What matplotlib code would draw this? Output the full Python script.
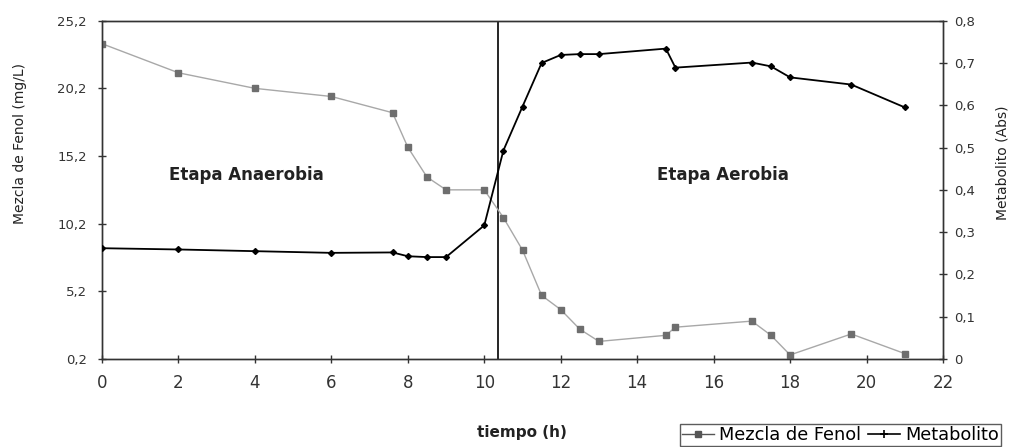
import matplotlib
matplotlib.use("Agg")
import matplotlib.pyplot as plt
from matplotlib.lines import Line2D

# ---- data ----
tiempo = [0, 2, 4, 6, 7.6, 8, 8.5, 9, 10, 10.5, 11, 11.5, 12, 12.5, 13,
          14.75, 15, 17, 17.5, 18, 19.6, 21]
fenol = [23.5, 21.35, 20.2, 19.6, 18.4, 15.85, 13.65, 12.7, 12.7, 10.65, 8.25,
         4.9, 3.85, 2.4, 1.5, 1.95, 2.55, 3.0, 1.95, 0.5, 2.05, 0.6]
metabolito = [0.262, 0.259, 0.255, 0.251, 0.252, 0.243, 0.241, 0.241, 0.316,
              0.493, 0.597, 0.700, 0.719, 0.721, 0.721, 0.734, 0.689, 0.701,
              0.692, 0.666, 0.649, 0.595]
x_ticks = [0, 2, 4, 6, 8, 10, 12, 14, 16, 18, 20, 22]
y_left_ticks = [0.2, 5.2, 10.2, 15.2, 20.2, 25.2]
y_left_labels = ["0,2", "5,2", "10,2", "15,2", "20,2", "25,2"]
y_right_ticks = [0, 0.1, 0.2, 0.3, 0.4, 0.5, 0.6, 0.7, 0.8]
y_right_labels = ["0", "0,1", "0,2", "0,3", "0,4", "0,5", "0,6", "0,7", "0,8"]
t_cambio = 10.37

W, H = 1015, 447
fig = plt.figure(figsize=(W / 100, H / 100), dpi=100)
plt.rcParams['font.family'] = ['DejaVu Sans']
ax = fig.add_axes([102 / W, 1 - 359 / H, (943 - 102) / W, (359 - 20.7) / H])
ax2 = ax.twinx()

ax.plot(tiempo, fenol, color="#a8a8a8", lw=1.0, marker="s", ms=4,
        mfc="#6e6e6e", mec="#6e6e6e", zorder=3)
ax2.plot(tiempo, metabolito, color="black", lw=1.3, marker="D", ms=3.0,
         mfc="black", mec="black", zorder=3)
ax.axvline(t_cambio, color="black", lw=1.2)

ax.set_xlim(0, 22)
ax.set_ylim(0.2, 25.2)
ax2.set_ylim(0, 0.8)
ax.set_xticks(x_ticks)
ax.set_xticklabels([str(v) for v in x_ticks], fontsize=12, color="#222222")
ax.set_yticks(y_left_ticks)
ax.set_yticklabels(y_left_labels, fontsize=9.5, color="#333333")
ax2.set_yticks(y_right_ticks)
ax2.set_yticklabels(y_right_labels, fontsize=9.5, color="#333333")

for a in (ax, ax2):
    a.tick_params(direction="inout", length=6, width=1, colors="#333333")
    for s in a.spines.values():
        s.set_color("#333333")
        s.set_linewidth(1.0)
ax.tick_params(axis="x", pad=8)
ax.tick_params(axis="y", pad=8)
ax2.tick_params(axis="y", pad=5)

ax.text(3.77, 13.8, "Etapa Anaerobia", fontsize=12, fontweight="bold",
        ha="center", va="center", color="#222222")
ax.text(16.24, 13.8, "Etapa Aerobia", fontsize=12, fontweight="bold",
        ha="center", va="center", color="#222222")

fig.text(522 / W, 1 - 432 / H, "tiempo (h)", fontsize=11, fontweight="bold",
         ha="center", va="center", color="#222222")
fig.text(20 / W, 1 - 143 / H, "Mezcla de Fenol (mg/L)", fontsize=10,
         rotation=90, ha="center", va="center", color="#222222")
fig.text(1003 / W, 1 - 163 / H, "Metabolito (Abs)", fontsize=10,
         rotation=90, ha="center", va="center", color="#222222")

handles = [
    Line2D([], [], color="#555555", lw=1.0, marker="s", ms=4, mfc="#555555"),
    Line2D([], [], color="black", lw=1.2, marker="+", ms=6, mew=1.2),
]
leg = fig.legend(handles, ["Mezcla de Fenol", "Metabolito"], ncol=2,
                 loc="upper left", bbox_to_anchor=(680 / W, 1 - 424 / H),
                 fontsize=12.8, frameon=True, fancybox=False, handlelength=1.8,
                 handletextpad=0.3, columnspacing=0.4, borderpad=0.1,
                 borderaxespad=0)
leg.get_frame().set_edgecolor("#333333")
leg.get_frame().set_linewidth(1.0)

fig.savefig("out.png", dpi=100)
